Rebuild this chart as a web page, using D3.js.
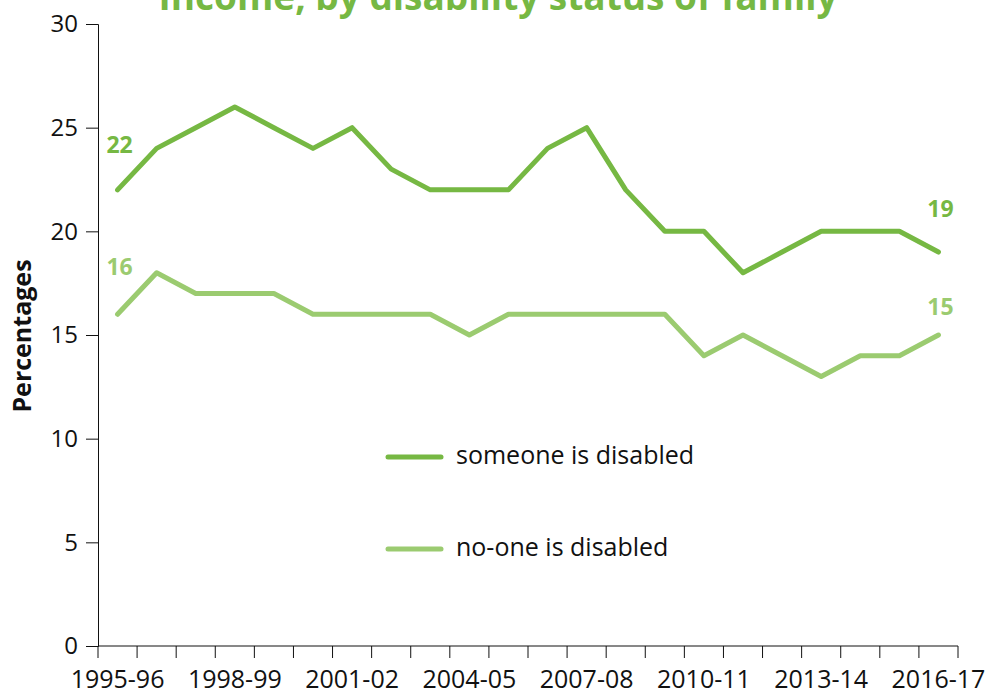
<!DOCTYPE html>
<html>
<head>
<meta charset="utf-8">
<script src="https://cdn.jsdelivr.net/npm/d3@7"></script>
<style>
  body { margin: 0; background: #fff; }
  svg text { font-family: "Open Sans", "DejaVu Sans", sans-serif; }
</style>
</head>
<body>
<div id="chart"></div>
<script>
// Years on the x axis
const years = ["1995-96", "1996-97", "1997-98", "1998-99", "1999-00", "2000-01", "2001-02",
  "2002-03", "2003-04", "2004-05", "2005-06", "2006-07", "2007-08", "2008-09", "2009-10",
  "2010-11", "2011-12", "2012-13", "2013-14", "2014-15", "2015-16", "2016-17"];

// Percentages for each group
const someoneDisabled = [22, 24, 25, 26, 25, 24, 25, 23, 22, 22, 22, 24, 25, 22, 20, 20, 18, 19, 20, 20, 20, 19];
const noOneDisabled = [16, 18, 17, 17, 17, 16, 16, 16, 16, 15, 16, 16, 16, 16, 16, 14, 15, 14, 13, 14, 14, 15];

const yTicks = [0, 5, 10, 15, 20, 25, 30];
const seriesNames = ["someone is disabled", "no-one is disabled"];
const colors = ["#76b843", "#9bcb70"];

const width = 988, height = 692;
const margin = {top: 24, right: 30, bottom: 46, left: 98};

const svg = d3.select("#chart").append("svg")
    .attr("width", width)
    .attr("height", height);

const x = d3.scalePoint()
    .domain(years)
    .range([margin.left, width - margin.right])
    .padding(0.5);

const y = d3.scaleLinear()
    .domain([0, 30])
    .range([height - margin.bottom, margin.top]);

// title (cut off at the top in the original)
svg.append("text")
    .attr("x", 498)
    .attr("y", 10)
    .attr("text-anchor", "middle")
    .attr("fill", colors[0])
    .style("font-size", "37px")
    .style("font-weight", "bold")
    .text("Income, by disability status of family");

// y axis
const yAxis = svg.append("g")
    .attr("transform", `translate(${margin.left},0)`)
    .call(d3.axisLeft(y).tickValues(yTicks).tickSize(12).tickPadding(8));
yAxis.selectAll("text")
    .style("font-size", "24px")
    .attr("fill", "#111");
yAxis.selectAll("line, path").attr("stroke", "#111");

// x axis: ticks at category boundaries, labels every 3rd year
const xAxis = svg.append("g")
    .attr("transform", `translate(0,${height - margin.bottom})`);
const step = x.step();
const boundaries = d3.range(years.length + 1).map(i => margin.left + i * step);
xAxis.append("line")
    .attr("x1", margin.left).attr("x2", width - margin.right)
    .attr("stroke", "#111");
xAxis.selectAll(".tick")
    .data(boundaries)
    .join("line")
    .attr("x1", d => d).attr("x2", d => d)
    .attr("y1", 0).attr("y2", 12)
    .attr("stroke", "#111");
xAxis.selectAll(".lbl")
    .data(years.filter((d, i) => i % 3 === 0))
    .join("text")
    .attr("x", d => x(d))
    .attr("y", 42)
    .attr("text-anchor", "middle")
    .attr("fill", "#111")
    .style("font-size", "25px")
    .text(d => d);

// y axis label
svg.append("text")
    .attr("transform", `translate(31,336) rotate(-90)`)
    .attr("text-anchor", "middle")
    .attr("fill", "#111")
    .style("font-size", "25px")
    .style("font-weight", "bold")
    .text("Percentages");

const line = d3.line()
    .x((d, i) => x(years[i]))
    .y(d => y(d));

// label offsets above the first / last point of each line
const labelOffsets = [[-37, -35], [-39, -20]];

[someoneDisabled, noOneDisabled].forEach((data, k) => {
    svg.append("path")
        .datum(data)
        .attr("fill", "none")
        .attr("stroke", colors[k])
        .attr("stroke-width", 5)
        .attr("stroke-linecap", "round")
        .attr("stroke-linejoin", "round")
        .attr("d", line);

    const last = data.length - 1;
    [[0, data[0], labelOffsets[k][0]], [last, data[last], labelOffsets[k][1]]].forEach(([i, v, off]) => {
        svg.append("text")
            .attr("x", x(years[i]) + 2)
            .attr("y", y(v) + off)
            .attr("text-anchor", "middle")
            .attr("fill", colors[k])
            .style("font-size", "23px")
            .style("font-weight", "bold")
            .text(v);
    });
});

// legend
const legend = svg.append("g");
seriesNames.forEach((name, k) => {
    const ly = 457 + k * 92;
    legend.append("line")
        .attr("x1", 388).attr("x2", 441)
        .attr("y1", ly).attr("y2", ly)
        .attr("stroke", colors[k])
        .attr("stroke-width", 5)
        .attr("stroke-linecap", "round");
    legend.append("text")
        .attr("x", 456)
        .attr("y", ly + 7)
        .attr("fill", "#111")
        .style("font-size", "25px")
        .text(name);
});
</script>
</body>
</html>
